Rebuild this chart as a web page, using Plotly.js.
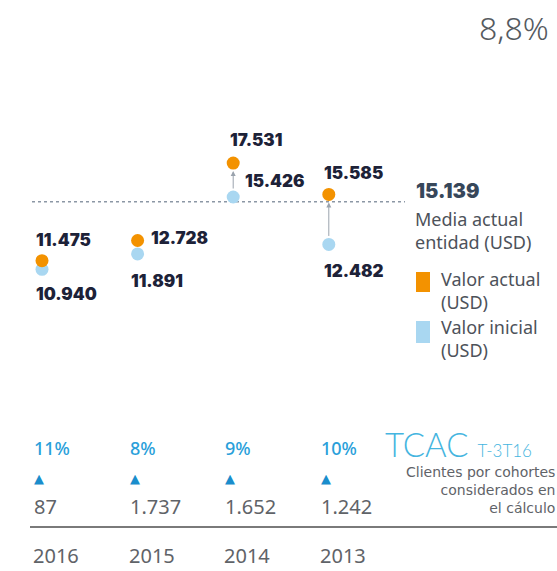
<!DOCTYPE html>
<html>
<head>
<meta charset="utf-8">
<script src="https://cdn.plot.ly/plotly-3.0.1.min.js"></script>
<style>html,body{margin:0;padding:0;background:#fff;}#chart{width:557px;height:571px;}</style>
</head>
<body>
<div id="chart"></div>
<script>
// ---- data ----
const years = ['2016', '2015', '2014', '2013'];
const valorActual = [11475, 12728, 17531, 15585];
const valorInicial = [10940, 11891, 15426, 12482];
const mediaActual = 15139;
const tcacPct = ['11%', '8%', '9%', '10%'];
const clientes = [87, 1737, 1652, 1242];
const tcacTotal = '8,8%';
const arrowYears = ['2014', '2013'];

// ---- helpers ----
const W = 557, H = 571;
const PX = p => p / W;
const PY = p => 1 - p / H;
const fmt = v => String(v).replace(/\B(?=(\d{3})+(?!\d))/g, '.');
const xs = years.map((_, i) => i);   // position of each cohort on the x scale

const NAVY = '#1d2238';
const ORANGE = '#f39200';
const LBLUE = '#a9d7f1';
const HEAVY = {family: 'Inter, sans-serif', size: 17, color: NAVY, weight: 900};
const BODY = 'Noto Sans, Open Sans, sans-serif';

const traces = [
  {x: xs, y: valorInicial, type: 'scatter', mode: 'markers',
   marker: {size: 13, color: LBLUE}, hoverinfo: 'skip', showlegend: false},
  {x: xs, y: valorActual, type: 'scatter', mode: 'markers',
   marker: {size: 13, color: ORANGE}, hoverinfo: 'skip', showlegend: false}
];

const ann = [];
// value labels: [xshift, yshift] offsets for actual / initial labels
const offA = [[-8, 21], [11, 2], [-5, 23], [-7, 21]];
const offI = [[-8, -25], [-9, -27], [10, 16], [-7, -27]];
xs.forEach(i => {
  ann.push({x: i, y: valorActual[i], xref: 'x', yref: 'y', text: fmt(valorActual[i]),
    showarrow: false, xanchor: 'left', yanchor: 'middle',
    xshift: offA[i][0], yshift: offA[i][1], font: HEAVY});
  ann.push({x: i, y: valorInicial[i], xref: 'x', yref: 'y', text: fmt(valorInicial[i]),
    showarrow: false, xanchor: 'left', yanchor: 'middle',
    xshift: offI[i][0], yshift: offI[i][1], font: HEAVY});
  // bottom table
  ann.push({x: i, y: PY(448), xref: 'x', yref: 'paper', text: tcacPct[i], showarrow: false,
    xanchor: 'left', yanchor: 'middle', xshift: -10,
    font: {family: BODY, size: 18, color: '#2a9fda', weight: 500}});
  ann.push({x: i, y: PY(478), xref: 'x', yref: 'paper', text: '▲', showarrow: false,
    xanchor: 'left', yanchor: 'middle', xshift: -10,
    font: {family: 'DejaVu Sans, sans-serif', size: 13, color: '#1a8dcc'}});
  ann.push({x: i, y: PY(506), xref: 'x', yref: 'paper', text: fmt(clientes[i]), showarrow: false,
    xanchor: 'left', yanchor: 'middle', xshift: -10,
    font: {family: BODY, size: 20, color: '#5f6368'}});
  ann.push({x: i, y: PY(555), xref: 'x', yref: 'paper', text: years[i], showarrow: false,
    xanchor: 'left', yanchor: 'middle', xshift: -11,
    font: {family: BODY, size: 20, color: '#5f6368'}});
});
// arrows initial -> actual
arrowYears.forEach(yr => {
  const i = years.indexOf(yr);
  ann.push({x: i, y: valorActual[i], ax: i, ay: valorInicial[i], xref: 'x', yref: 'y',
    axref: 'x', ayref: 'y', text: '', showarrow: true, arrowhead: 2, arrowsize: 1,
    arrowwidth: 1, arrowcolor: '#9aa3ad', standoff: 8, startstandoff: 7});
});
// mean legend
ann.push({x: PX(414), y: mediaActual, xref: 'paper', yref: 'y', yshift: 11, text: fmt(mediaActual),
  showarrow: false, xanchor: 'left', yanchor: 'middle',
  font: {family: 'Inter, sans-serif', size: 20, color: '#37475a', weight: 900}});
ann.push({x: PX(413), y: PY(230), xref: 'paper', yref: 'paper', text: 'Media actual<br>entidad (USD)',
  showarrow: false, xanchor: 'left', yanchor: 'middle', align: 'left',
  font: {family: BODY, size: 18, color: '#4d525a'}});
ann.push({x: PX(439), y: PY(290), xref: 'paper', yref: 'paper', text: 'Valor actual<br>(USD)',
  showarrow: false, xanchor: 'left', yanchor: 'middle', align: 'left',
  font: {family: BODY, size: 18, color: '#4d525a'}});
ann.push({x: PX(439), y: PY(338), xref: 'paper', yref: 'paper', text: 'Valor inicial<br>(USD)',
  showarrow: false, xanchor: 'left', yanchor: 'middle', align: 'left',
  font: {family: BODY, size: 18, color: '#4d525a'}});
// TCAC block
ann.push({x: PX(383), y: PY(444), xref: 'paper', yref: 'paper', showarrow: false,
  xanchor: 'left', yanchor: 'middle',
  text: 'TCAC <span style="font-size:17px">T-3T16</span>',
  font: {family: 'Lato, sans-serif', size: 33, color: '#45b5e0', weight: 300}});
ann.push({x: PX(557), y: PY(490), xref: 'paper', yref: 'paper', showarrow: false,
  xanchor: 'right', yanchor: 'middle', align: 'right',
  text: 'Clientes por cohortes<br>considerados en<br>el cálculo',
  font: {family: 'DejaVu Sans, sans-serif', size: 14, color: '#5f6368'}});
// total
ann.push({x: PX(551), y: PY(28), xref: 'paper', yref: 'paper', text: tcacTotal, showarrow: false,
  xanchor: 'right', yanchor: 'middle', font: {family: BODY, size: 32, color: '#555a60', weight: 300}});

const shapes = [
  {type: 'line', xref: 'paper', yref: 'y', x0: PX(32), x1: PX(405), y0: mediaActual, y1: mediaActual,
   line: {color: '#8c97a5', width: 1.5, dash: 'dot'}, layer: 'below'},
  {type: 'rect', xref: 'paper', yref: 'paper', x0: PX(416), x1: PX(430), y0: PY(272), y1: PY(292),
   fillcolor: ORANGE, line: {width: 0}},
  {type: 'rect', xref: 'paper', yref: 'paper', x0: PX(416), x1: PX(430), y0: PY(321), y1: PY(343),
   fillcolor: LBLUE, line: {width: 0}},
  {type: 'line', xref: 'paper', yref: 'paper', x0: PX(30), x1: 1, y0: PY(527), y1: PY(527),
   line: {color: '#7a7a7a', width: 2}}
];

const layout = {
  width: W, height: H,
  margin: {l: 0, r: 0, t: 0, b: 0},
  paper_bgcolor: '#fff', plot_bgcolor: '#fff',
  xaxis: {range: [-0.4393, 5.387], visible: false, fixedrange: true},
  yaxis: {range: [-7789, 27656], visible: false, fixedrange: true},
  annotations: ann, shapes: shapes, showlegend: false
};
Plotly.newPlot('chart', traces, layout, {staticPlot: true, displayModeBar: false});
</script>
</body>
</html>
